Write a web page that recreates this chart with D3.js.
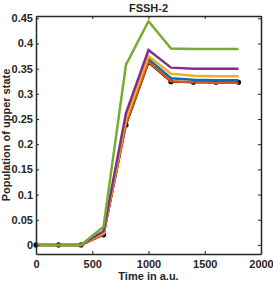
<!DOCTYPE html>
<html>
<head>
<meta charset="utf-8">
<script src="https://cdn.jsdelivr.net/npm/d3@7"></script>
<style>
  body { margin: 0; background: #fff; }
  text { font-family: "Liberation Sans", Arial, sans-serif; font-weight: bold; fill: #262626; }
</style>
</head>
<body>
<svg width="273" height="283"></svg>
<script>
const svg = d3.select("svg");

// data
const times = [0, 200, 400, 600, 800, 1000, 1200, 1400, 1600, 1800];
const refValues   = [0, 0, 0, 0.020, 0.238, 0.362, 0.324, 0.323, 0.323, 0.323];
const blueValues  = [0, 0, 0, 0.022, 0.245, 0.369, 0.331, 0.328, 0.327, 0.327];
const redValues   = [0, 0, 0, 0.021, 0.240, 0.364, 0.325, 0.323, 0.322, 0.322];
const yellowValues = [0, 0, 0, 0.024, 0.250, 0.375, 0.340, 0.336, 0.335, 0.335];
const purpleValues = [0, 0, 0, 0.027, 0.262, 0.387, 0.352, 0.350, 0.350, 0.350];
const greenValues  = [0, 0, 0, 0.036, 0.358, 0.444, 0.390, 0.389, 0.389, 0.389];
const xTicks = [0, 500, 1000, 1500, 2000];
const yTicks = [0, 0.05, 0.1, 0.15, 0.2, 0.25, 0.3, 0.35, 0.4, 0.45];

const series = [
    { values: blueValues, color: "#0072BD" },
    { values: redValues, color: "#D95319" },
    { values: yellowValues, color: "#EDB120" },
    { values: purpleValues, color: "#7E2F8E" },
    { values: greenValues, color: "#77AC30" }
];

const mLeft = 36, mRight = 261, mTop = 16, mBottom = 254;

const x = d3.scaleLinear().domain([0, 2000]).range([mLeft, mRight]);
const y = d3.scaleLinear().domain([-0.018, 0.4545]).range([mBottom, mTop]);

const line = d3.line()
    .x((d, i) => x(times[i]))
    .y(d => y(d));

// reference line with dots
svg.append("path")
    .attr("d", line(refValues))
    .attr("fill", "none")
    .attr("stroke", "#000")
    .attr("stroke-width", 2);

svg.selectAll(".dot")
    .data(refValues)
    .enter().append("circle")
    .attr("cx", (d, i) => x(times[i]))
    .attr("cy", d => y(d))
    .attr("r", 2.6)
    .attr("fill", "#000");

series.forEach(s => {
    svg.append("path")
        .attr("d", line(s.values))
        .attr("fill", "none")
        .attr("stroke", s.color)
        .attr("stroke-width", 2.5)
        .attr("stroke-linejoin", "miter");
});

// axes
const xAxis = svg.append("g")
    .attr("transform", `translate(0,${mBottom})`)
    .call(d3.axisBottom(x).tickValues(xTicks).tickFormat(d => String(d))
        .tickSizeInner(-3).tickSizeOuter(0).tickPadding(6));
const yAxis = svg.append("g")
    .attr("transform", `translate(${mLeft},0)`)
    .call(d3.axisLeft(y).tickValues(yTicks).tickFormat(d => d === 0 ? "0" : String(+d.toFixed(2)))
        .tickSizeInner(-3).tickSizeOuter(0).tickPadding(3));
const xTop = svg.append("g")
    .attr("transform", `translate(0,${mTop})`)
    .call(d3.axisTop(x).tickValues(xTicks).tickSizeInner(-3).tickSizeOuter(0).tickFormat(""));
const yRight = svg.append("g")
    .attr("transform", `translate(${mRight},0)`)
    .call(d3.axisRight(y).tickValues(yTicks).tickSizeInner(-3).tickSizeOuter(0).tickFormat(""));

[xAxis, yAxis, xTop, yRight].forEach(g => {
    g.selectAll("path, line").attr("stroke", "#262626");
    g.select(".domain").attr("stroke-width", 1.5);
    g.selectAll("text").attr("font-size", 11).attr("font-family", "Liberation Sans, Arial, sans-serif")
        .attr("font-weight", "bold").attr("fill", "#262626");
});

// labels
svg.append("text")
    .attr("x", (mLeft + mRight) / 2).attr("y", 12)
    .attr("text-anchor", "middle").attr("font-size", 11)
    .text("FSSH-2");

svg.append("text")
    .attr("x", (mLeft + mRight) / 2).attr("y", 280)
    .attr("text-anchor", "middle").attr("font-size", 11)
    .text("Time in a.u.");

svg.append("text")
    .attr("transform", `translate(10,${(mTop + mBottom) / 2}) rotate(-90)`)
    .attr("text-anchor", "middle").attr("font-size", 11)
    .text("Population of upper state");
</script>
</body>
</html>
